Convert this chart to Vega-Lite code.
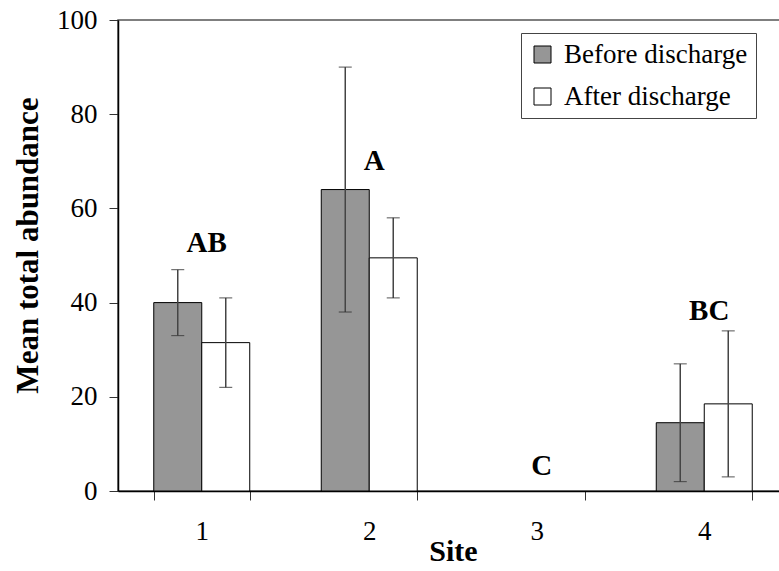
{
  "$schema": "https://vega.github.io/schema/vega-lite/v6.json",
  "width": 670,
  "height": 471,
  "autosize": {"type": "none"},
  "padding": {"left": 118, "top": 20, "right": 0, "bottom": 80},
  "background": "white",
  "config": {
    "font": "Liberation Serif",
    "view": {"stroke": "#555", "strokeWidth": 1.5},
    "axis": {"grid": false, "domainColor": "#000", "tickColor": "#333", "labelColor": "#000", "titleColor": "#000", "labelFont": "Liberation Serif", "titleFont": "Liberation Serif"},
    "legend": {"labelFont": "Liberation Serif", "labelLimit": 400}
  },
  "datasets": {
    "bars": [
      {"site": "1", "period": "Before discharge", "mean": 40, "lo": 33, "hi": 47},
      {"site": "1", "period": "After discharge", "mean": 31.5, "lo": 22, "hi": 41},
      {"site": "2", "period": "Before discharge", "mean": 64, "lo": 38, "hi": 90},
      {"site": "2", "period": "After discharge", "mean": 49.5, "lo": 41, "hi": 58},
      {"site": "4", "period": "Before discharge", "mean": 14.5, "lo": 2, "hi": 27},
      {"site": "4", "period": "After discharge", "mean": 18.5, "lo": 3, "hi": 34}
    ],
    "letters": [
      {"site": "1", "label": "AB", "pos": 50.8},
      {"site": "2", "label": "A", "pos": 68.2},
      {"site": "3", "label": "C", "pos": 3.4},
      {"site": "4", "label": "BC", "pos": 36.3}
    ]
  },
  "encoding": {
    "x": {
      "field": "site", "type": "nominal",
      "scale": {"domain": ["1", "2", "3", "4"], "paddingInner": 0.427, "paddingOuter": 0.2135},
      "axis": {"title": "Site", "labelAngle": 0, "labelFontSize": 27, "titleFontSize": 30, "titleFontWeight": "bold", "tickBand": "extent", "tickSize": 9, "labelPadding": 18, "titlePadding": -8, "domainWidth": 1.5}
    }
  },
  "layer": [
    {
      "data": {"name": "bars"},
      "mark": {"type": "bar", "stroke": "#000", "strokeWidth": 1},
      "encoding": {
        "xOffset": {"field": "period", "type": "nominal", "scale": {"domain": ["Before discharge", "After discharge"], "paddingInner": 0, "paddingOuter": 0}},
        "y": {
          "field": "mean", "type": "quantitative",
          "scale": {"domain": [0, 100], "nice": false},
          "axis": {"title": "Mean total abundance", "values": [0, 20, 40, 60, 80, 100], "labelFontSize": 27, "titleFontSize": 31, "titleFontWeight": "bold", "tickSize": 9, "labelPadding": 12, "titleY": 225, "titlePadding": 12, "domainWidth": 1.5}
        },
        "fill": {
          "field": "period", "type": "nominal",
          "scale": {"domain": ["Before discharge", "After discharge"], "range": ["#969696", "#ffffff"]},
          "legend": {
            "title": null, "orient": "none", "legendX": 403, "legendY": 13,
            "symbolType": "square", "symbolSize": 289, "symbolStrokeColor": "#000", "symbolStrokeWidth": 1,
            "labelFontSize": 27, "labelFont": "Liberation Serif", "labelColor": "#000", "labelOffset": 8, "labelLimit": 400,
            "strokeColor": "#444", "padding": 8, "rowPadding": 14, "symbolOpacity": 1
          }
        }
      }
    },
    {
      "data": {"name": "bars"},
      "mark": {"type": "rule", "color": "#444", "strokeWidth": 1.5},
      "encoding": {
        "xOffset": {"field": "period", "type": "nominal", "scale": {"domain": ["Before discharge", "After discharge"], "paddingInner": 0, "paddingOuter": 0}},
        "y": {"field": "lo", "type": "quantitative"},
        "y2": {"field": "hi"}
      }
    },
    {
      "data": {"name": "bars"},
      "mark": {"type": "tick", "color": "#333", "size": 13, "thickness": 1.2},
      "encoding": {
        "xOffset": {"field": "period", "type": "nominal", "scale": {"domain": ["Before discharge", "After discharge"], "paddingInner": 0, "paddingOuter": 0}},
        "y": {"field": "hi", "type": "quantitative"}
      }
    },
    {
      "data": {"name": "bars"},
      "mark": {"type": "tick", "color": "#333", "size": 13, "thickness": 1.2},
      "encoding": {
        "xOffset": {"field": "period", "type": "nominal", "scale": {"domain": ["Before discharge", "After discharge"], "paddingInner": 0, "paddingOuter": 0}},
        "y": {"field": "lo", "type": "quantitative"}
      }
    },
    {
      "data": {"name": "letters"},
      "mark": {"type": "text", "font": "Liberation Serif", "fontWeight": "bold", "fontSize": 29, "baseline": "alphabetic", "align": "center", "dx": 5, "color": "#000"},
      "encoding": {
        "y": {"field": "pos", "type": "quantitative"},
        "text": {"field": "label"}
      }
    }
  ]
}
